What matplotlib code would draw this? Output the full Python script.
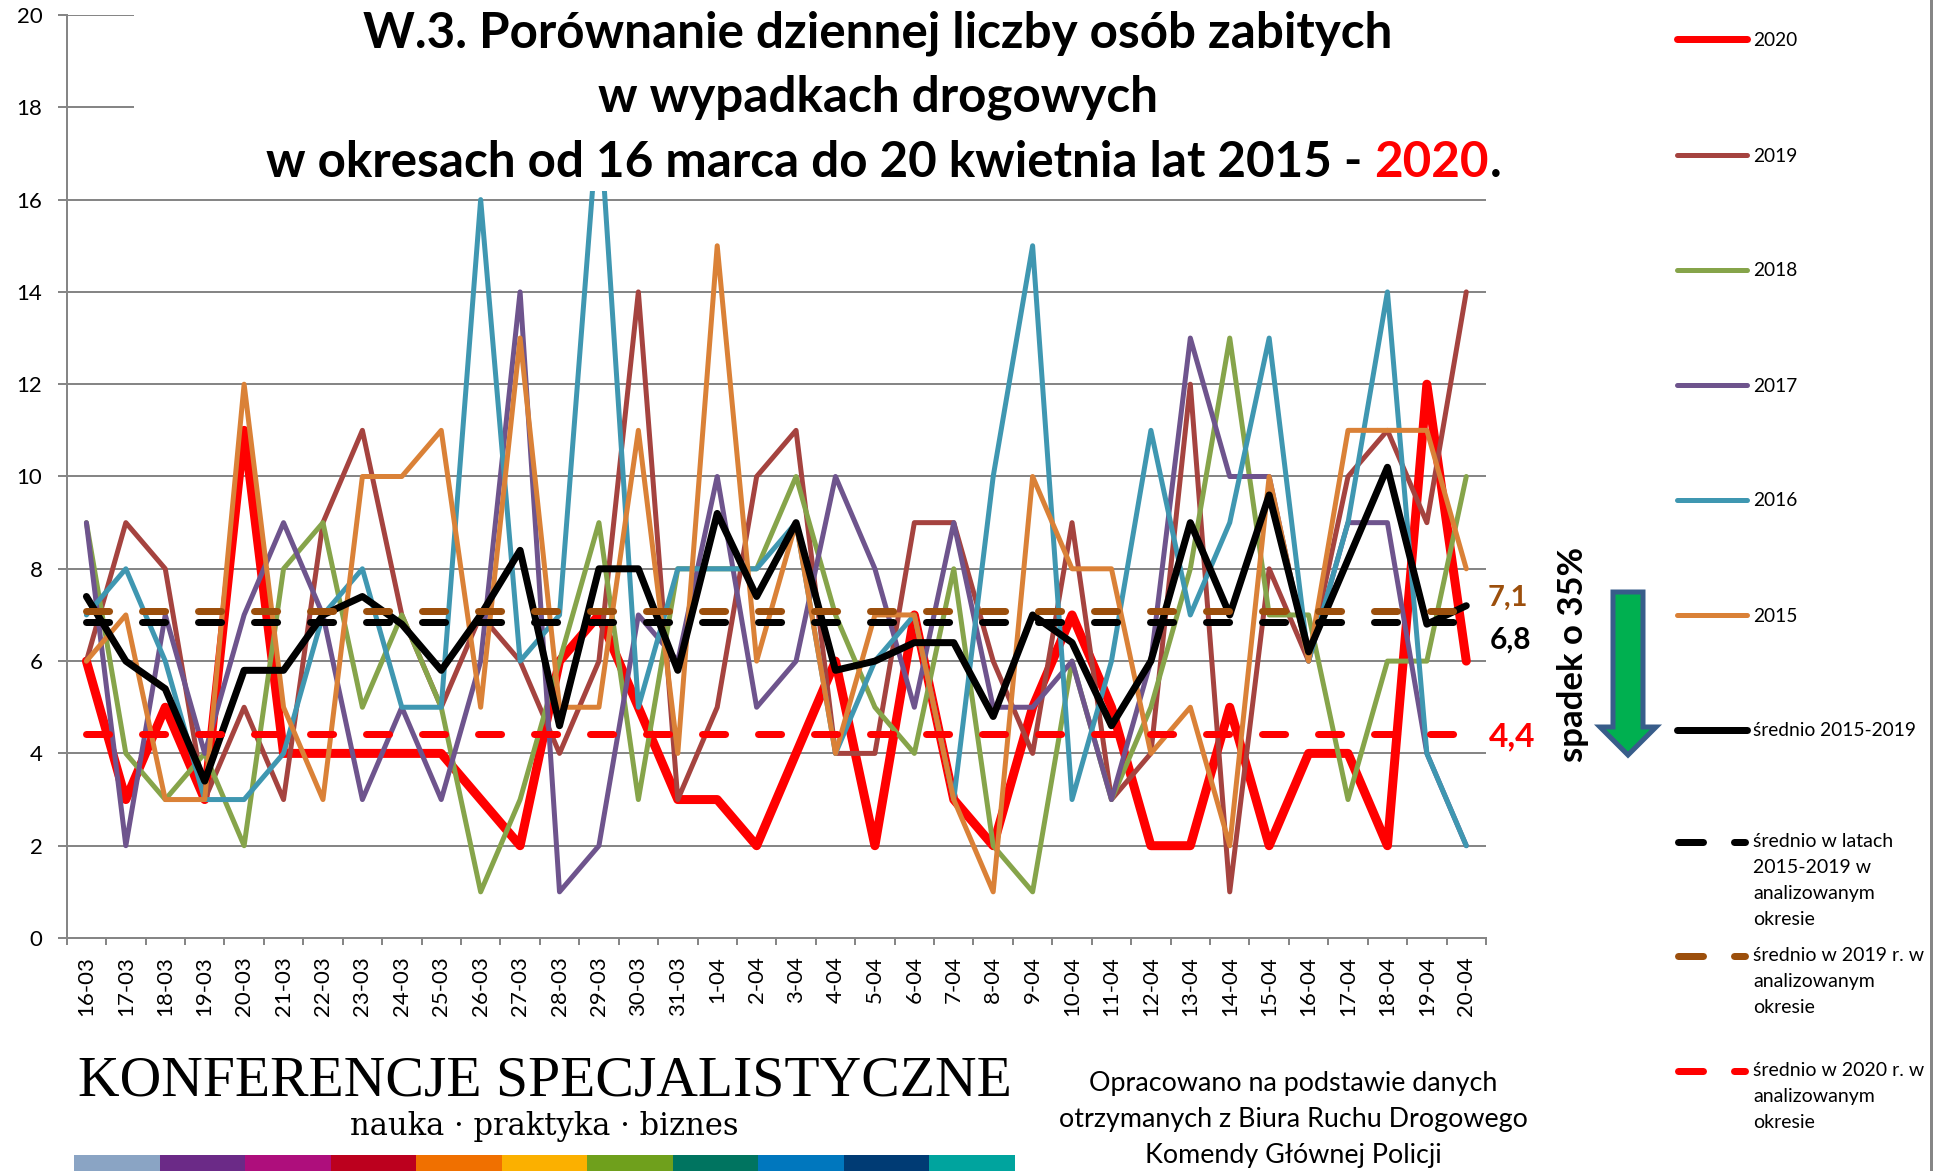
import numpy as np
import matplotlib
matplotlib.use('Agg')
import matplotlib.pyplot as plt
from matplotlib.lines import Line2D
from matplotlib.patches import Polygon, Rectangle

plt.rcParams['font.family'] = ['Lato', 'DejaVu Sans']

W, H = 1948, 1171

days = ['16-03', '17-03', '18-03', '19-03', '20-03', '21-03', '22-03', '23-03', '24-03',
        '25-03', '26-03', '27-03', '28-03', '29-03', '30-03', '31-03', '1-04', '2-04',
        '3-04', '4-04', '5-04', '6-04', '7-04', '8-04', '9-04', '10-04', '11-04', '12-04',
        '13-04', '14-04', '15-04', '16-04', '17-04', '18-04', '19-04', '20-04']

y2020 = [6, 3, 5, 3, 11, 4, 4, 4, 4, 4, 3, 2, 6, 7, 5, 3, 3, 2,
         4, 6, 2, 7, 3, 2, 5, 7, 5, 2, 2, 5, 2, 4, 4, 2, 12, 6]
y2019 = [6, 9, 8, 3, 5, 3, 9, 11, 7, 5, 7, 6, 4, 6, 14, 3, 5, 10,
         11, 4, 4, 9, 9, 6, 4, 9, 3, 4, 12, 1, 8, 6, 10, 11, 9, 14]
y2018 = [9, 4, 3, 4, 2, 8, 9, 5, 7, 5, 1, 3, 6, 9, 3, 8, 8, 8,
         10, 7, 5, 4, 8, 2, 1, 6, 3, 5, 8, 13, 7, 7, 3, 6, 6, 10]
y2017 = [9, 2, 7, 4, 7, 9, 7, 3, 5, 3, 6, 14, 1, 2, 7, 6, 10, 5,
         6, 10, 8, 5, 9, 5, 5, 6, 3, 6, 13, 10, 10, 6, 9, 9, 4, 2]
y2016 = [7, 8, 6, 3, 3, 4, 7, 8, 5, 5, 16, 6, 7, 18, 5, 8, 8, 8,
         9, 4, 6, 7, 3, 10, 15, 3, 6, 11, 7, 9, 13, 6, 9, 14, 4, 2]
y2015 = [6, 7, 3, 3, 12, 5, 3, 10, 10, 11, 5, 13, 5, 5, 11, 4, 15, 6,
         9, 4, 7, 7, 3, 1, 10, 8, 8, 4, 5, 2, 10, 6, 11, 11, 11, 8]
avg = [7.4, 6, 5.4, 3.4, 5.8, 5.8, 7, 7.4, 6.8, 5.8, 7, 8.4, 4.6, 8, 8, 5.8, 9.2, 7.4,
       9, 5.8, 6, 6.4, 6.4, 4.8, 7, 6.4, 4.6, 6, 9, 7, 9.6, 6.2, 8.2, 10.2, 6.8, 7.2]
mean_1519 = 6.84
mean_2019 = 7.08
mean_2020 = 4.42

y_ticks = list(range(0, 21, 2))

c_2020, c_2019, c_2018, c_2017, c_2016, c_2015 = '#FF0000', '#A5433F', '#86A44A', '#6E548D', '#3F97B1', '#DA8137'
c_brown = '#9C4F0C'
GRID = '#868686'

legend_rows = ['2020', '2019', '2018', '2017', '2016', '2015', 'średnio 2015-2019']
legend_notes = ['średnio w latach\n2015-2019 w\nanalizowanym\nokresie',
                'średnio w 2019 r. w\nanalizowanym\nokresie',
                'średnio w 2020 r. w\nanalizowanym\nokresie']
logo_colors = ['#8AA4C4', '#6B2A87', '#AE0E7C', '#BC001E', '#F07000', '#FBB000',
               '#6FA01C', '#007460', '#0077BE', '#003B74', '#00A49E']

fig = plt.figure(figsize=(W / 100, H / 100), dpi=100)
ax = fig.add_axes([66.7 / W, 1 - 938 / H, (1486 - 66.7) / W, (938 - 15) / H])

x = np.arange(len(days))
px = 1 / 100 * 72  # points per pixel

series = [(y2020, c_2020, 9), (y2019, c_2019, 5), (y2018, c_2018, 5),
          (y2017, c_2017, 5), (y2016, c_2016, 5), (y2015, c_2015, 5), (avg, 'black', 7)]
for vals, col, w in series:
    ax.plot(x, vals, color=col, lw=w * px, solid_joinstyle='round', solid_capstyle='round', clip_on=False)

# means, dashed
for val, col in [(mean_1519, 'black'), (mean_2019, c_brown), (mean_2020, c_2020)]:
    ax.plot(x, [val] * len(x), color=col, lw=7 * px, dashes=(3.3, 4.7), dash_capstyle='round')

ax.set_xlim(-0.5, len(days) - 0.5)
ax.set_ylim(0, 20)
ax.set_yticks(y_ticks)
ax.set_xticks(np.arange(len(days) + 1) - 0.5)
ax.set_xticklabels([])
ax.set_xticks(x, minor=True)
ax.set_xticklabels(days, minor=True, rotation=90, fontsize=16)
ax.tick_params(axis='x', which='minor', length=0, pad=13)
ax.tick_params(axis='x', which='major', length=7 * px, width=2 * px, color=GRID)
ax.tick_params(axis='y', length=9 * px, width=2 * px, color=GRID, labelsize=16, pad=11)
ax.grid(axis='y', color=GRID, lw=2 * px)
ax.set_axisbelow(True)
for s in ['top', 'right']:
    ax.spines[s].set_visible(False)
for s in ['left', 'bottom']:
    ax.spines[s].set_color(GRID)
    ax.spines[s].set_linewidth(2 * px)

# everything else is placed in pixels of the picture
ov = fig.add_axes([0, 0, 1, 1], facecolor='none')
ov.set_xlim(0, W)
ov.set_ylim(H, 0)
ov.axis('off')

# white box under the title hides the top of the chart
ov.add_patch(Rectangle((134, 0), 1366, 191, color='white', lw=0))
ov.plot([1931, 1931], [0, H], color=GRID, lw=3 * px)

# title
tsize = 35.6
ov.text(878, 47, 'W.3. Porównanie dziennej liczby osób zabitych', fontsize=tsize, fontweight='bold', ha='center', va='baseline')
ov.text(878, 112, 'w wypadkach drogowych', fontsize=tsize, fontweight='bold', ha='center', va='baseline')
rend = fig.canvas.get_renderer()
t = ov.text(266, 177, 'w okresach od 16 marca do 20 kwietnia lat 2015 -', fontsize=tsize, fontweight='bold', va='baseline')
tx = t.get_window_extent(rend).x1 + 12
t = ov.text(tx, 177, '2020', fontsize=tsize, fontweight='bold', color=c_2020, va='baseline')
ov.text(t.get_window_extent(rend).x1 + 1, 177, '.', fontsize=tsize, fontweight='bold', va='baseline')

# value labels
ov.text(1488, 598, '7,1', color=c_brown, fontsize=21, fontweight='bold', va='center')
ov.text(1490, 640, '6,8', color='black', fontsize=21.5, fontweight='bold', va='center')
ov.text(1489, 737, '4,4', color=c_2020, fontsize=24, fontweight='bold', va='center')

# decrease arrow
ov.text(1573, 654, 'spadek o 35%', rotation=90, fontsize=25, fontweight='bold', ha='center', va='center')
arrow = [(1613, 592), (1643, 592), (1643, 727), (1656, 727), (1628, 755), (1600, 727), (1613, 727)]
ov.add_patch(Polygon(arrow, closed=True, facecolor='#00B050', edgecolor='#385D8A', lw=5 * px, joinstyle='miter'))

# legend
row_ys = [39, 155, 270, 385, 500, 615, 730]
row_cols = [c_2020, c_2019, c_2018, c_2017, c_2016, c_2015, 'black']
row_ws = [7, 5, 5, 5, 5, 5, 7]
for lab, yy, col, w in zip(legend_rows, row_ys, row_cols, row_ws):
    ov.add_line(Line2D([1677, 1747], [yy, yy], color=col, lw=w * px, solid_capstyle='round'))
    ov.text(1753, yy + 1, lab, fontsize=13.8, va='center')
for lab, yy, col in zip(legend_notes, [842, 956, 1071], ['black', c_brown, c_2020]):
    ov.add_line(Line2D([1678, 1703], [yy, yy], color=col, lw=7 * px, solid_capstyle='round'))
    ov.add_line(Line2D([1734, 1745], [yy, yy], color=col, lw=7 * px, solid_capstyle='round'))
    ov.text(1753, yy - 9, lab, fontsize=14, va='top', linespacing=1.65)

# source note
ov.text(1293, 1119, 'Opracowano na podstawie danych\notrzymanych z Biura Ruchu Drogowego\nKomendy Głównej Policji',
        fontsize=19.4, ha='center', va='center', linespacing=1.55)

# logo
ov.text(545, 1081, 'KONFERENCJE SPECJALISTYCZNE', family='Liberation Serif', fontsize=41.5, ha='center', va='center')
ov.text(544, 1127, 'nauka · praktyka · biznes', family='DejaVu Serif', fontsize=22, ha='center', va='center')
edges = np.linspace(74, 1015, len(logo_colors) + 1)
ov.bar(edges[:-1], 16, width=np.diff(edges), bottom=1155, align='edge', color=logo_colors, lw=0)

fig.savefig('out.png', dpi=100)
